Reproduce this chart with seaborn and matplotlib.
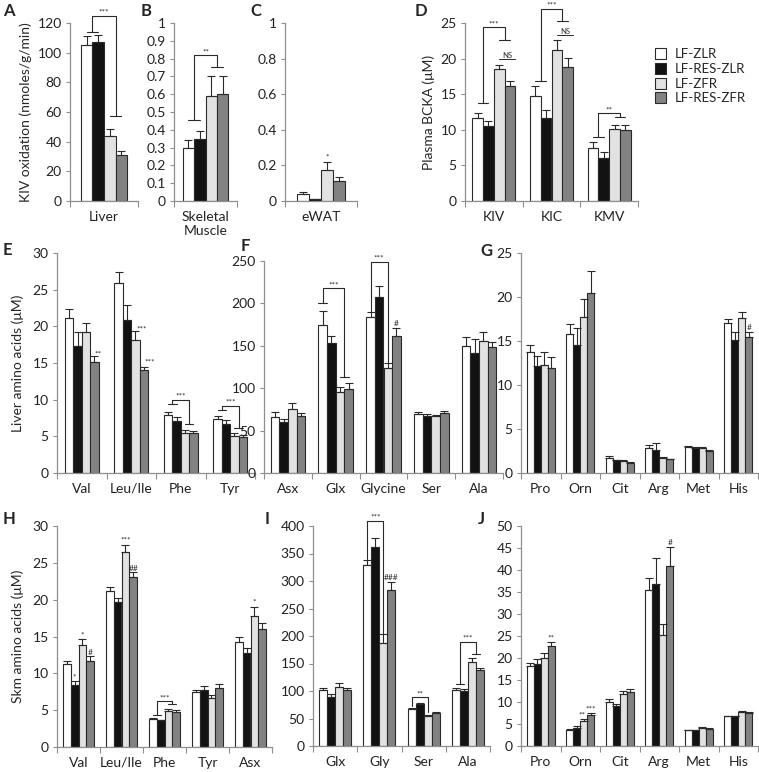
"""Multi-panel BCAA / BCKA bar chart (KIV oxidation, plasma BCKA, tissue amino acids)."""

import matplotlib

matplotlib.use("Agg")
import matplotlib.pyplot as plt
import numpy as np
import pandas as pd
import seaborn as sns
from matplotlib.patches import Patch
from matplotlib.ticker import FormatStrFormatter

W, H = 759, 772

GROUPS = ["LF-ZLR", "LF-RES-ZLR", "LF-ZFR", "LF-RES-ZFR"]
COLORS = ["#ffffff", "#121212", "#e2e2e2", "#828282"]
EDGE = "#2a2a2a"
SPINE = "#8f8f8f"

# rows of each *_MEAN / *_ERR are the four groups, columns the categories
A_CATS = ["Liver"]
A_MEAN = [[105.5], [107.0], [43.5], [31.0]]
A_ERR = [[6.0], [5.0], [5.0], [3.0]]

B_CATS = ["Skeletal\nMuscle"]
B_MEAN = [[0.30], [0.35], [0.59], [0.60]]
B_ERR = [[0.045], [0.045], [0.11], [0.10]]

C_CATS = ["eWAT"]
C_MEAN = [[0.04], [0.01], [0.175], [0.11]]
C_ERR = [[0.008], [0.004], [0.045], [0.025]]

D_CATS = ["KIV", "KIC", "KMV"]
D_MEAN = [[11.6, 14.8, 7.5], [10.5, 11.7, 6.0], [18.5, 21.2, 10.1], [16.1, 18.8, 9.95]]
D_ERR = [[0.8, 1.4, 0.8], [0.8, 1.1, 0.9], [0.6, 1.4, 0.6], [0.8, 1.3, 0.7]]

E_CATS = ["Val", "Leu/Ile", "Phe", "Tyr"]
E_MEAN = [[21.1, 25.9, 7.9, 7.4], [17.3, 20.8, 7.1, 6.7],
          [19.2, 18.2, 5.5, 5.1], [15.2, 14.0, 5.4, 4.9]]
E_ERR = [[1.3, 1.5, 0.4, 0.4], [1.9, 2.1, 0.6, 0.5],
         [1.2, 1.1, 0.4, 0.4], [0.7, 0.5, 0.3, 0.3]]

F_CATS = ["Asx", "Glx", "Glycine", "Ser", "Ala"]
F_MEAN = [[66, 174, 184, 69, 150], [60, 153, 207, 67, 141],
          [75, 95, 124, 67, 156], [67, 99, 161, 70.5, 148]]
F_ERR = [[6, 17, 6, 3.5, 10], [4, 8, 13, 3, 17],
         [8, 7, 6, 1.5, 10], [4, 7, 10, 3, 7]]

G_CATS = ["Pro", "Orn", "Cit", "Arg", "Met", "His"]
G_MEAN = [[13.8, 15.8, 1.7, 2.8, 2.94, 17.1], [12.2, 14.5, 1.43, 2.65, 2.8, 15.1],
          [12.3, 17.7, 1.36, 1.7, 2.83, 17.6], [11.9, 20.5, 1.1, 1.55, 2.5, 15.4]]
G_ERR = [[0.7, 1.1, 0.2, 0.4, 0.15, 0.35], [1.1, 2.0, 0.08, 0.75, 0.15, 0.9],
         [1.4, 2.1, 0.12, 0.1, 0.15, 0.7], [1.3, 2.5, 0.1, 0.08, 0.1, 0.6]]

H_CATS = ["Val", "Leu/Ile", "Phe", "Tyr", "Asx"]
H_MEAN = [[11.3, 21.2, 3.8, 7.4, 14.3], [8.4, 19.7, 3.6, 7.7, 12.7],
          [13.9, 26.5, 4.9, 6.6, 17.8], [11.7, 23.1, 4.8, 8.0, 16.0]]
H_ERR = [[0.4, 0.5, 0.15, 0.4, 0.7], [0.5, 0.5, 0.05, 0.6, 0.8],
         [0.7, 0.9, 0.3, 0.5, 1.2], [0.6, 0.6, 0.2, 0.6, 0.8]]

I_CATS = ["Glx", "Gly", "Ser", "Ala"]
I_MEAN = [[102, 330, 67, 102], [90, 361, 76, 100], [107, 188, 54, 153], [101, 284, 60.5, 139]]
I_ERR = [[4, 9, 2, 4], [4, 18, 1.5, 3], [7, 16, 1.5, 7], [4, 15, 1.5, 2]]

J_CATS = ["Pro", "Orn", "Cit", "Arg", "Met", "His"]
J_MEAN = [[18.1, 3.7, 10.1, 35.4, 3.6, 6.8], [18.7, 4.1, 9.0, 36.8, 3.6, 6.8],
          [20.0, 5.6, 11.8, 25.3, 4.1, 7.7], [22.8, 7.0, 12.2, 40.9, 3.9, 7.5]]
J_ERR = [[0.8, 0.2, 0.5, 2.7, 0.1, 0.1], [1.1, 0.4, 0.6, 6.0, 0.1, 0.1],
         [1.1, 0.6, 0.8, 2.5, 0.3, 0.2], [0.8, 0.4, 0.7, 4.3, 0.15, 0.2]]


def make_ax(fig, x0, x1, ytop, ybot):
    """Axes from pixel box of the reference picture."""
    return fig.add_axes([x0 / W, 1 - ybot / H, (x1 - x0) / W, (ybot - ytop) / H])


def draw_panel(ax, cats, means, errs, ymax, step, width=0.7, fmt="%g"):
    n = len(cats)
    df = pd.DataFrame({
        "cat": np.tile(cats, len(GROUPS)),
        "group": np.repeat(GROUPS, n),
        "value": np.ravel(means),
    })
    sns.barplot(data=df, x="cat", y="value", hue="group", order=cats, hue_order=GROUPS,
                palette=COLORS, saturation=1, width=width, gap=0, errorbar=None,
                edgecolor=EDGE, linewidth=0.8, legend=False, ax=ax)
    bars = list(ax.containers)
    pos = [[b.get_x() + b.get_width() / 2 for b in c] for c in bars]
    bw = bars[0][0].get_width()
    for g, cont in enumerate(bars):
        for c, bar in enumerate(cont):
            ax.errorbar(pos[g][c], bar.get_height(), yerr=[[0], [errs[g][c]]], fmt="none",
                        ecolor=EDGE, elinewidth=0.8, capsize=2.6, capthick=0.8)

    ax.set_xlim(-0.5, n - 0.5)
    ax.set_ylim(0, ymax)
    ax.set_xticks(range(n))
    ax.set_xticklabels(cats)
    ax.set_xticks(np.arange(-0.5, n), minor=True)
    ax.tick_params(axis="x", which="major", length=0, pad=7, labelsize=10, colors="#222")
    ax.tick_params(axis="x", which="minor", length=4, width=0.8, color=SPINE)
    ax.set_yticks(np.arange(0, ymax + step / 2, step))
    ax.yaxis.set_major_formatter(FormatStrFormatter(fmt))
    ax.tick_params(axis="y", length=3, width=0.8, color=SPINE, labelsize=10,
                   labelcolor="#222", pad=3)
    for side in ("left", "bottom"):
        ax.spines[side].set_color(SPINE)
        ax.spines[side].set_linewidth(0.9)
    sns.despine(ax=ax)
    ax.set_xlabel("")
    ax.set_ylabel("")
    return pos, bw


def bracket(ax, bw, xl, xr, y1, top, y2, text, ticks=(True, True)):
    """Significance bracket between two groups of bars."""

    def seg(xs):
        mid = (min(xs) + max(xs)) / 2
        half = (max(xs) - min(xs)) / 2 if len(xs) > 1 else bw / 2
        return mid, half

    x1, h1 = seg(xl)
    x2, h2 = seg(xr)
    kw = dict(color=EDGE, lw=0.8, clip_on=False)
    ax.plot([x1, x1, x2, x2], [y1, top, top, y2], **kw)
    if ticks[0]:
        ax.plot([x1 - h1, x1 + h1], [y1, y1], **kw)
    if ticks[1]:
        ax.plot([x2 - h2, x2 + h2], [y2, y2], **kw)
    ax.text((x1 + x2) / 2, top, text, ha="center", va="bottom", fontsize=6, color=EDGE)


def star(ax, x, y, text, dx=0.0):
    ax.text(x + dx, y, text, ha="center", va="bottom", fontsize=6, color=EDGE, clip_on=False)


def ns(ax, x0, x1, y):
    ax.plot([x0, x1], [y, y], color=EDGE, lw=0.7, clip_on=False)
    ax.text((x0 + x1) / 2, y, "NS", ha="center", va="bottom", fontsize=5.5, color=EDGE)


sns.set_theme(style="ticks")
plt.rcParams["font.family"] = ["Lato", "DejaVu Sans"]

fig = plt.figure(figsize=(W / 100, H / 100), dpi=100)

# row 1
ax = make_ax(fig, 70, 138, 23, 201)
p, bw = draw_panel(ax, A_CATS, A_MEAN, A_ERR, 120, 20, width=0.68)
bracket(ax, bw, [p[0][0], p[1][0]], [p[2][0], p[3][0]], 114, 125, 57, "***")
ax.set_ylabel("KIV oxidation (nmoles/g/min)", fontsize=10, labelpad=4)

ax = make_ax(fig, 174, 237, 23, 201)
p, bw = draw_panel(ax, B_CATS, B_MEAN, B_ERR, 1.0, 0.1, width=0.72)
bracket(ax, bw, [p[0][0], p[1][0]], [p[2][0], p[3][0]], 0.455, 0.82, 0.755, "**")

ax = make_ax(fig, 285, 357, 23, 201)
p, bw = draw_panel(ax, C_CATS, C_MEAN, C_ERR, 1.0, 0.2, width=0.66)
star(ax, p[2][0], 0.225, "*")

ax = make_ax(fig, 465, 638, 23, 201)
p, bw = draw_panel(ax, D_CATS, D_MEAN, D_ERR, 25, 5, width=0.74)
bracket(ax, bw, [p[0][0], p[1][0]], [p[2][0], p[3][0]], 13.7, 24.4, 22.6, "***")
ns(ax, p[2][0], p[3][0] + bw / 2, 20.0)
bracket(ax, bw, [p[0][1], p[1][1]], [p[2][1], p[3][1]], 16.9, 27.0, 25.3, "***")
ns(ax, p[2][1], p[3][1] + bw / 2, 23.3)
bracket(ax, bw, [p[0][2], p[1][2]], [p[2][2], p[3][2]], 9.0, 12.3, 11.8, "**")
ax.set_ylabel("Plasma BCKA (\u03bcM)", fontsize=10, labelpad=4)

fig.legend(handles=[Patch(facecolor=c, edgecolor=EDGE, linewidth=0.8) for c in COLORS],
           labels=GROUPS, loc="upper left", bbox_to_anchor=(650 / W, 1 - 43 / H),
           frameon=False, fontsize=9.5, handlelength=0.8, handleheight=0.9,
           handletextpad=0.7, labelspacing=0.2, borderaxespad=0)

# row 2
ax = make_ax(fig, 57, 255, 253, 473)
p, bw = draw_panel(ax, E_CATS, E_MEAN, E_ERR, 30, 5, width=0.68)
star(ax, p[3][0], 15.8, "**", dx=bw * 0.4)
star(ax, p[2][1], 19.2, "***", dx=bw * 0.7)
star(ax, p[3][1], 14.6, "***", dx=bw * 0.7)
bracket(ax, bw, [p[0][2], p[1][2]], [p[2][2], p[3][2]], 9.4, 10.0, 6.7, "***")
bracket(ax, bw, [p[0][3], p[1][3]], [p[2][3], p[3][3]], 8.6, 9.2, 6.1, "***")
ax.set_ylabel("Liver amino acids (\u03bcM)", fontsize=10, labelpad=6)

ax = make_ax(fig, 264, 503, 261, 473)
p, bw = draw_panel(ax, F_CATS, F_MEAN, F_ERR, 250, 50, width=0.72)
bracket(ax, bw, [p[0][1]], [p[2][1], p[3][1]], 200, 218, 113, "***")
bracket(ax, bw, [p[0][2]], [p[2][2]], 190, 249, 130, "***", ticks=(False, False))
star(ax, p[3][2], 172, "#")

ax = make_ax(fig, 521, 758, 253, 473)
p, bw = draw_panel(ax, G_CATS, G_MEAN, G_ERR, 25, 5, width=0.72)
star(ax, p[3][5], 16.1, "#")

# row 3
ax = make_ax(fig, 57, 272, 526, 747)
p, bw = draw_panel(ax, H_CATS, H_MEAN, H_ERR, 30, 5, width=0.74)
star(ax, p[1][0], 9.0, "*")
star(ax, p[2][0], 14.7, "*")
star(ax, p[3][0], 12.4, "#")
star(ax, p[2][1], 27.6, "***")
star(ax, p[3][1], 23.8, "##")
bracket(ax, bw, [p[0][2], p[1][2]], [p[2][2], p[3][2]], 4.4, 6.2, 5.8, "***")
star(ax, p[2][4], 19.2, "*")
ax.set_ylabel("Skm amino acids (\u03bcM)", fontsize=10, labelpad=6)

ax = make_ax(fig, 313, 490, 526, 746)
p, bw = draw_panel(ax, I_CATS, I_MEAN, I_ERR, 400, 50, width=0.72)
bracket(ax, bw, [p[0][1]], [p[2][1]], 340, 410, 204, "***", ticks=(False, False))
star(ax, p[3][1], 300, "###")
bracket(ax, bw, [p[0][2]], [p[2][2]], 72, 89, 62, "**", ticks=(False, False))
bracket(ax, bw, [p[0][3], p[1][3]], [p[2][3], p[3][3]], 112, 190, 168, "***")

ax = make_ax(fig, 521, 758, 526, 746)
p, bw = draw_panel(ax, J_CATS, J_MEAN, J_ERR, 50, 5, width=0.72)
star(ax, p[3][0], 23.8, "**")
star(ax, p[2][1], 6.2, "**", dx=-bw * 0.3)
star(ax, p[3][1], 7.5, "***")
star(ax, p[3][3], 45.5, "#")

for label, x, y in [("A", 3, 11), ("B", 141, 11), ("C", 250, 11), ("D", 415, 11),
                    ("E", 3, 250), ("F", 241, 246), ("G", 480, 251),
                    ("H", 3, 519), ("I", 265, 519), ("J", 478, 519)]:
    fig.text(x / W, 1 - y / H, label, fontsize=12, fontweight="bold", va="center", ha="left")

fig.savefig("out.png", dpi=100)
plt.close(fig)
